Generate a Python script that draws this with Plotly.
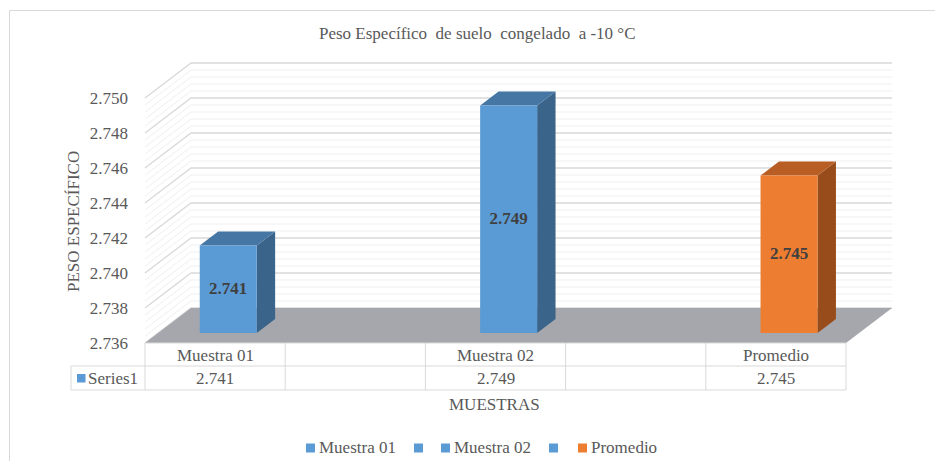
import plotly.graph_objects as go

# ---- data -------------------------------------------------------------
categories = ["Muestra 01", "", "Muestra 02", "", "Promedio"]
values = [2.741, None, 2.749, None, 2.745]
series_name = "Series1"
y_ticks = [2.736, 2.738, 2.740, 2.742, 2.744, 2.746, 2.748, 2.750]
chart_title = "Peso Específico  de suelo  congelado  a -10 °C"
y_title = "PESO ESPECÍFICO"
x_title = "MUESTRAS"

# ---- style ------------------------------------------------------------
FONT = "Liberation Serif"
TEXT = "#595959"
BLUE = "#5b9bd5"
ORANGE = "#ed7d31"
point_colors = [BLUE, BLUE, BLUE, BLUE, ORANGE]
shades = {  # front -> (top, side)
    BLUE: ("#4676a4", "#3a6489"),
    ORANGE: ("#b85e24", "#984c1b"),
}
FLOOR = "#a5a7ad"
GRID_MAJOR = "#d9d9d9"
GRID_MINOR = "#efefef"
TABLE_LINE = "#d9d9d9"

# ---- geometry (pixels) -----------------------------------------------
FIG_W, FIG_H = 935, 461
L, R, T, B = 143, 900, 55, 350          # plot area
CAT_PX = 140.2                           # width of one category
X0_PX = 145                              # left edge of first category
UNIT_PX = 17500                          # pixels per y unit (front plane)
Y0_PX = 343                              # pixel row of the axis minimum
Y_MIN = y_ticks[0]
N = len(categories)

x_range = [-0.5 + (L - X0_PX) / CAT_PX, -0.5 + (R - X0_PX) / CAT_PX]
y_range = [Y_MIN - (B - Y0_PX) / UNIT_PX, Y_MIN + (Y0_PX - T) / UNIT_PX]

DEPTH_X = 46 / CAT_PX                    # oblique depth offset
DEPTH_Y = 35 / UNIT_PX
D1, D2 = 10 / 35, 10 / 35 + 0.4          # bar depth span
BAR_W = 57 / CAT_PX
MINOR_STEP = (y_ticks[1] - y_ticks[0]) / 5


def proj(x, v, d):
    return x + d * DEPTH_X, v + d * DEPTH_Y


def px_x(px):
    return (px - L) / (R - L)


def px_y(py):
    return (B - py) / (B - T)


def poly(points, color):
    xs = [p[0] for p in points] + [points[0][0]]
    ys = [p[1] for p in points] + [points[0][1]]
    return go.Scatter(x=xs, y=ys, mode="lines", fill="toself", fillcolor=color,
                      line=dict(width=0, color=color), hoverinfo="skip",
                      showlegend=False)


fig = go.Figure()

# ---- walls: gridlines on side and back wall ---------------------------
n_levels = int(round((y_ticks[-1] - Y_MIN) / MINOR_STEP)) + 1
for major in (False, True):
    gx, gy = [], []
    for k in range(n_levels):
        if (k % 5 == 0) != major:
            continue
        v = Y_MIN + k * MINOR_STEP
        for p in (proj(-0.5, v, 0), proj(-0.5, v, 1), proj(N - 0.5, v, 1)):
            gx.append(p[0])
            gy.append(p[1])
        gx.append(None)
        gy.append(None)
    fig.add_trace(go.Scatter(
        x=gx, y=gy, mode="lines", hoverinfo="skip", showlegend=False,
        line=dict(color=GRID_MAJOR if major else GRID_MINOR,
                  width=1.3 if major else 1)))

# ---- floor -------------------------------------------------------------
fig.add_trace(poly([proj(-0.5, Y_MIN, 0), proj(N - 0.5, Y_MIN, 0),
                    proj(N - 0.5, Y_MIN, 1), proj(-0.5, Y_MIN, 1)], FLOOR))

# ---- 3D columns ---------------------------------------------------------
lab_x, lab_y, lab_t = [], [], []
for i, v in enumerate(values):
    if v is None:
        continue
    front = point_colors[i]
    top, side = shades[front]
    xl, xr = i - BAR_W / 2, i + BAR_W / 2
    fig.add_trace(poly([proj(xr, Y_MIN, D1), proj(xr, Y_MIN, D2),
                        proj(xr, v, D2), proj(xr, v, D1)], side))
    fig.add_trace(poly([proj(xl, v, D1), proj(xr, v, D1),
                        proj(xr, v, D2), proj(xl, v, D2)], top))
    fig.add_trace(poly([proj(xl, Y_MIN, D1), proj(xr, Y_MIN, D1),
                        proj(xr, v, D1), proj(xl, v, D1)], front))
    cx, cy = proj(i, (Y_MIN + v) / 2, D1)
    lab_x.append(cx)
    lab_y.append(cy)
    lab_t.append(f"<b>{v:.3f}</b>")

fig.add_trace(go.Scatter(
    x=lab_x, y=lab_y, text=lab_t, mode="text", hoverinfo="skip",
    showlegend=False, textposition="middle center",
    textfont=dict(family=FONT, size=17, color="#404040")))

# ---- data table ----------------------------------------------------------
shapes = []
annotations = []
ROW0, ROW1, ROW2 = 343, 366, 390
SERIES_LEFT = 71


def hline(x0, x1, py, xref="x"):
    shapes.append(dict(type="line", xref=xref, yref="paper", x0=x0, x1=x1,
                       y0=px_y(py), y1=px_y(py),
                       line=dict(color=TABLE_LINE, width=1)))


def vline(x, py0, py1, xref="x"):
    shapes.append(dict(type="line", xref=xref, yref="paper", x0=x, x1=x,
                       y0=px_y(py0), y1=px_y(py1),
                       line=dict(color=TABLE_LINE, width=1)))


hline(-0.5, N - 0.5, ROW0)
for py in (ROW1, ROW2):
    shapes.append(dict(type="line", xref="paper", yref="paper",
                       x0=px_x(SERIES_LEFT), x1=px_x(X0_PX),
                       y0=px_y(py), y1=px_y(py),
                       line=dict(color=TABLE_LINE, width=1)))
    hline(-0.5, N - 0.5, py)
for k in range(N + 1):
    vline(k - 0.5, ROW0, ROW2)
shapes.append(dict(type="line", xref="paper", yref="paper",
                   x0=px_x(SERIES_LEFT), x1=px_x(SERIES_LEFT),
                   y0=px_y(ROW1), y1=px_y(ROW2),
                   line=dict(color=TABLE_LINE, width=1)))

for i, (c, v) in enumerate(zip(categories, values)):
    if c:
        annotations.append(dict(x=i, xref="x", y=px_y((ROW0 + ROW1) / 2 + 0.5),
                                yref="paper", text=c, showarrow=False,
                                xanchor="center", yanchor="middle"))
    if v is not None:
        annotations.append(dict(x=i, xref="x", y=px_y((ROW1 + ROW2) / 2 + 0.5),
                                yref="paper", text=f"{v:.3f}", showarrow=False,
                                xanchor="center", yanchor="middle"))

# series key in the table
shapes.append(dict(type="rect", xref="paper", yref="paper",
                   x0=px_x(77), x1=px_x(85.5), y0=px_y(382.5), y1=px_y(374),
                   fillcolor=BLUE, line=dict(width=0)))
annotations.append(dict(x=px_x(86), xref="paper", y=px_y((ROW1 + ROW2) / 2 + 0.5),
                        yref="paper", text=series_name, showarrow=False,
                        xanchor="left", yanchor="middle"))

# ---- titles ----------------------------------------------------------------
annotations.append(dict(x=px_x(477), y=px_y(33), xref="paper", yref="paper",
                        text=chart_title.replace("  ", "\u00a0 "),
                        showarrow=False, xanchor="center", yanchor="middle"))
annotations.append(dict(x=px_x(73), y=px_y(222), xref="paper", yref="paper",
                        text=y_title, textangle=-90, showarrow=False,
                        xanchor="center", yanchor="middle"))
annotations.append(dict(x=px_x(494), y=px_y(404), xref="paper", yref="paper",
                        text=x_title, showarrow=False,
                        xanchor="center", yanchor="middle"))

# ---- legend (one key per category) -----------------------------------------
legend_square_px = [306, 414, 441, 549, 578]
for i, c in enumerate(categories):
    sx = legend_square_px[i]
    shapes.append(dict(type="rect", xref="paper", yref="paper",
                       x0=px_x(sx), x1=px_x(sx + 9), y0=px_y(452.5),
                       y1=px_y(443.5), fillcolor=point_colors[i],
                       line=dict(width=0)))
    if c:
        annotations.append(dict(x=px_x(sx + 11), y=px_y(447.5), xref="paper",
                                yref="paper", text=c, showarrow=False,
                                xanchor="left", yanchor="middle"))

# ---- chart frame -------------------------------------------------------------
shapes.append(dict(type="rect", xref="paper", yref="paper",
                   x0=px_x(9.5), x1=px_x(FIG_W + 5), y0=px_y(FIG_H + 5),
                   y1=px_y(10.5), line=dict(color="#d9d9d9", width=1),
                   fillcolor="rgba(0,0,0,0)", layer="below"))

fig.update_layout(
    width=FIG_W, height=FIG_H,
    margin=dict(l=L, r=FIG_W - R, t=T, b=FIG_H - B, pad=0),
    paper_bgcolor="white", plot_bgcolor="white",
    font=dict(family=FONT, size=17, color=TEXT),
    showlegend=False,
    xaxis=dict(range=x_range, visible=False, fixedrange=True),
    yaxis=dict(range=y_range, tickvals=y_ticks,
               ticktext=[f"{t:.3f}" for t in y_ticks],
               showgrid=False, zeroline=False, showline=False, ticks="",
               ticklabelstandoff=14, fixedrange=True,
               tickfont=dict(family=FONT, size=17, color=TEXT)),
    shapes=shapes,
    annotations=annotations,
)

fig.write_html("out.html")
